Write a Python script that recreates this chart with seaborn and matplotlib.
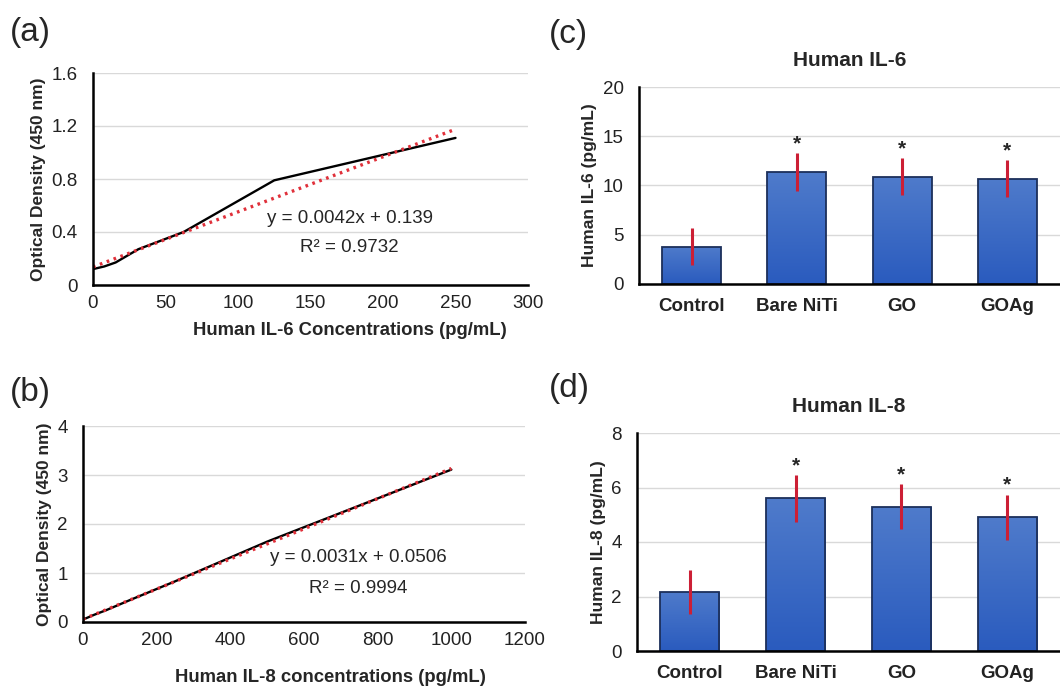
import numpy as np
import matplotlib.pyplot as plt
import seaborn as sns
from matplotlib.colors import LinearSegmentedColormap
from matplotlib.ticker import FuncFormatter


# ---------------- DATA ---------------- #

# standard curves (a) and (b)
il6_conc = [0, 7.8, 15.6, 31.25, 62.5, 125, 250]
il6_od = [0.12, 0.14, 0.17, 0.27, 0.40, 0.79, 1.11]
il8_conc = [0, 15.6, 31.25, 62.5, 125, 250, 500, 1000]
il8_od = [0.05, 0.10, 0.15, 0.24, 0.44, 0.83, 1.64, 3.11]

il6_eq = "y = 0.0042x + 0.139"
il6_r2 = "R² = 0.9732"
il8_eq = "y = 0.0031x + 0.0506"
il8_r2 = "R² = 0.9994"

# cytokine release (c) and (d)
groups = ["Control", "Bare NiTi", "GO", "GOAg"]
il6_mean = [3.8, 11.35, 10.9, 10.7]
il6_err = [1.9, 1.95, 1.9, 1.85]
il8_mean = [2.17, 5.6, 5.3, 4.9]
il8_err = [0.82, 0.85, 0.83, 0.84]
stars = ["", "*", "*", "*"]


# ---------------- STYLE ---------------- #

sns.set_style("white")
plt.rcParams["font.family"] = ["Liberation Sans", "DejaVu Sans"]

W, H = 1060, 687
fig = plt.figure(figsize=(W / 100, H / 100), dpi=100)


def px_axes(left, top, right, bottom):
    return fig.add_axes([left / W, 1 - bottom / H, (right - left) / W, (bottom - top) / H])


def style_axes(ax, ymax, ystep):
    sns.despine(ax=ax)
    for side in ["left", "bottom"]:
        ax.spines[side].set_linewidth(1.8)
        ax.spines[side].set_color("black")
    ax.set_ylim(0, ymax)
    ax.set_yticks(np.arange(0, ymax + ystep / 2, ystep))
    ax.yaxis.set_major_formatter(FuncFormatter(lambda v, _: f"{v:g}"))
    ax.grid(axis="y", color="#d9d9d9", lw=1)
    ax.grid(axis="x", visible=False)
    ax.set_axisbelow(True)
    ax.tick_params(length=0, labelsize=13.5, colors="#222222")
    ax.tick_params(axis="y", pad=11)
    ax.tick_params(axis="x", pad=7)


def curve_panel(ax, x, y, xmax, xstep, ymax, ystep, xlabel, xlab_pos, eq, r2, txt_x, txt_y):
    sns.lineplot(x=x, y=y, ax=ax, color="black", lw=1.7)
    sns.regplot(x=x, y=y, ax=ax, scatter=False, ci=None, truncate=True,
                line_kws=dict(color="#e0303a", lw=2.4, ls=(0, (0.8, 1.4))))
    style_axes(ax, ymax, ystep)
    ax.set_xlim(0, xmax)
    ax.set_xticks(np.arange(0, xmax + 1, xstep))
    ax.set_xlabel(xlabel, fontsize=13.3, fontweight="bold")
    ax.set_ylabel("Optical Density (450 nm)", fontsize=12.5, fontweight="bold")
    ax.xaxis.set_label_coords(*xlab_pos)
    ax.text(txt_x, txt_y[0], eq, transform=ax.transAxes, ha="center", va="center", fontsize=13.5)
    ax.text(txt_x, txt_y[1], r2, transform=ax.transAxes, ha="center", va="center", fontsize=13.5)


bar_cmap = LinearSegmentedColormap.from_list("bar", ["#2a5bbe", "#4f7bcb"])


def bar_panel(ax, means, errs, ymax, ystep, ylabel, title):
    sns.barplot(x=groups, y=means, ax=ax, color="#3a69c4", width=0.56,
                edgecolor="#1c2f5a", linewidth=1.3, errorbar=None)
    # vertical gradient fill like the original
    grad = np.linspace(0, 1, 256).reshape(-1, 1)
    for bar in ax.patches:
        x0, y0 = bar.get_x(), bar.get_y()
        img = ax.imshow(grad, extent=[x0, x0 + bar.get_width(), y0, y0 + bar.get_height()],
                        origin="lower", cmap=bar_cmap, aspect="auto", zorder=0.9)
        img.set_clip_path(bar)
        bar.set_facecolor("none")
    ax.errorbar(range(len(groups)), means, yerr=errs, fmt="none",
                ecolor="#cc1f35", elinewidth=2.2, capsize=0, zorder=3)
    for i, (m, e, s) in enumerate(zip(means, errs, stars)):
        ax.annotate(s, (i, m + e), xytext=(0, 0), textcoords="offset points",
                    ha="center", va="bottom", fontsize=15, fontweight="bold")
    ax.set_xlim(-0.5, len(groups) - 0.5)
    style_axes(ax, ymax, ystep)
    ax.tick_params(axis="x", pad=10)
    for lab in ax.get_xticklabels():
        lab.set_fontweight("bold")
    ax.set_ylabel(ylabel, fontsize=12.5, fontweight="bold")
    ax.set_xlabel("")
    ax.set_title(title, fontsize=15, fontweight="bold", pad=15)


# ---------------- PANELS ---------------- #

ax_a = px_axes(93, 73, 528, 285)
curve_panel(ax_a, il6_conc, il6_od, 300, 50, 1.6, 0.4,
            "Human IL-6 Concentrations (pg/mL)", (0.59, -0.175), il6_eq, il6_r2, 0.59, (0.316, 0.175))

ax_b = px_axes(83, 426, 525, 622)
curve_panel(ax_b, il8_conc, il8_od, 1200, 200, 4, 1,
            "Human IL-8 concentrations (pg/mL)", (0.56, -0.24), il8_eq, il8_r2, 0.622, (0.327, 0.173))

ax_c = px_axes(639, 87, 1060, 284)
bar_panel(ax_c, il6_mean, il6_err, 20, 5, "Human IL-6 (pg/mL)", "Human IL-6")

ax_d = px_axes(637, 433, 1060, 651)
bar_panel(ax_d, il8_mean, il8_err, 8, 2, "Human IL-8 (pg/mL)", "Human IL-8")

for lbl, x, y in [("(a)", 10, 33), ("(b)", 10, 392), ("(c)", 549, 34), ("(d)", 549, 389)]:
    fig.text(x / W, 1 - y / H, lbl, fontsize=24, ha="left", va="center")

fig.savefig("out.png", dpi=100)
